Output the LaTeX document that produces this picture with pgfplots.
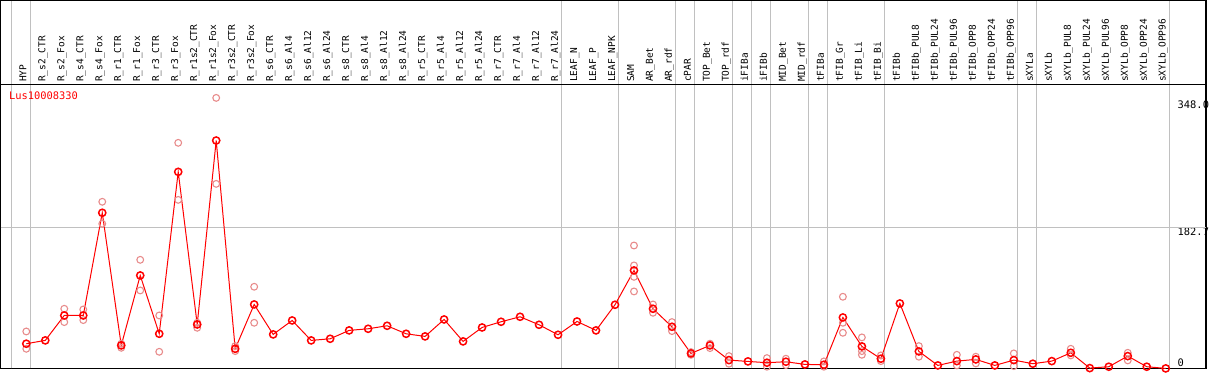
\documentclass[border=0pt]{standalone}
\usepackage{pgfplots}
\pgfplotsset{compat=1.18}
\usepackage{fontspec}
\setmonofont{DejaVu Sans Mono}
\definecolor{repred}{RGB}{232,140,140}
\definecolor{gridgray}{RGB}{192,192,192}
\newcommand{\lblfont}{\ttfamily\fontsize{9.5}{10}\selectfont}
\newcommand{\valfont}{\ttfamily\fontsize{10.4}{11}\selectfont}
\begin{document}
\begin{tikzpicture}
\begin{axis}[
  scale only axis, width=1206pt, height=368pt,
  xmin=-1.353, xmax=62.12, ymin=0, ymax=477.9,
  xtick={0,...,60},
  xticklabels={HYP,R\_s2\_CTR,R\_s2\_Fox,R\_s4\_CTR,R\_s4\_Fox,R\_r1\_CTR,R\_r1\_Fox,R\_r3\_CTR,R\_r3\_Fox,R\_r1s2\_CTR,R\_r1s2\_Fox,R\_r3s2\_CTR,R\_r3s2\_Fox,R\_s6\_CTR,R\_s6\_Al4,R\_s6\_Al12,R\_s6\_Al24,R\_s8\_CTR,R\_s8\_Al4,R\_s8\_Al12,R\_s8\_Al24,R\_r5\_CTR,R\_r5\_Al4,R\_r5\_Al12,R\_r5\_Al24,R\_r7\_CTR,R\_r7\_Al4,R\_r7\_Al12,R\_r7\_Al24,LEAF\_N,LEAF\_P,LEAF\_NPK,SAM,AR\_Bet,AR\_rdf,cPAR,TOP\_Bet,TOP\_rdf,iFIBa,iFIBb,MID\_Bet,MID\_rdf,tFIBa,tFIB\_Gr,tFIB\_Li,tFIB\_Bi,tFIBb,tFIBb\_PUL8,tFIBb\_PUL24,tFIBb\_PUL96,tFIBb\_OPP8,tFIBb\_OPP24,tFIBb\_OPP96,sXYLa,sXYLb,sXYLb\_PUL8,sXYLb\_PUL24,sXYLb\_PUL96,sXYLb\_OPP8,sXYLb\_OPP24,sXYLb\_OPP96},
  xticklabel pos=upper,
  xticklabel style={rotate=90, anchor=base west, inner sep=0pt, font=\lblfont},
  xticklabel shift=-81.5pt,
  major tick length=0pt,
  ytick={0,182.7,348},
  yticklabels={{\smash{\raisebox{3pt}{0}}},182.7,348.0},
  yticklabel pos=right,
  yticklabel style={anchor=north west, inner sep=0pt, xshift=-28.5pt, font=\valfont},
  extra x ticks={-0.8,0.2,28.2,31.2,34.2,35.2,37.2,38.2,39.2,41.2,42.2,45.2,52.2,53.2,60.2},
  extra x tick labels={},
  extra x tick style={grid=major, major grid style={gridgray, line width=1pt}},
  extra y ticks={182.7},
  extra y tick labels={},
  extra y tick style={grid=major, major grid style={gridgray, line width=1pt}},
  axis line style={black, line width=1.2pt},
]
\draw[gridgray, line width=1pt] (axis cs:-0.8,0) -- (axis cs:-0.8,477.9);
\draw[black, line width=1pt] (axis cs:-1.353,368.8) -- (axis cs:62.12,368.8);
% replicates
\addplot[only marks, mark=o, mark size=3.4pt, repred, mark options={line width=1.1pt}] coordinates {
(0,48.0) (0,25.5)
(2,77.5) (2,60.2)
(3,76.6) (3,62.8)
(4,216.5) (4,187.9)
(5,32.1) (5,26.8)
(6,141.1) (6,101.3)
(7,68.8) (7,21.6)
(8,293.1) (8,219.0)
(9,52.8) (9,59.3)
(10,351.5) (10,239.8)
(11,29.0) (11,22.5)
(12,106.1) (12,59.3)
(32,159.7) (32,133.8) (32,119.0) (32,100.0)
(33,83.1) (33,72.3)
(34,60.2) (34,48.5)
(35,21.2) (35,17.7)
(36,32.1) (36,26.4)
(37,16.0) (37,6.1)
(39,13.4) (39,2.2)
(40,12.6) (40,4.3)
(42,9.1) (42,2.2)
(43,93.1) (43,59.3) (43,46.3)
(44,40.3) (44,22.5) (44,17.7)
(45,16.9) (45,9.5)
(47,29.0) (47,15.2)
(49,17.7) (49,3.9)
(50,15.2) (50,6.5)
(52,19.5) (52,3.0)
(55,25.5) (55,16.9)
(58,20.3) (58,10.4)
};
% means
\addplot[red, line width=1pt, mark=o, mark size=3.6pt, mark options={line width=1.5pt}] coordinates {
(0,32.1) (1,36.4) (2,68.8) (3,68.8) (4,202.2) (5,29.9) (6,120.8) (7,45.0) (8,255.4) (9,57.1)
(10,296.1) (11,25.5) (12,83.1) (13,44.2) (14,62.3) (15,36.4) (16,38.5) (17,49.4) (18,51.5) (19,55.4)
(20,45.0) (21,41.6) (22,63.6) (23,35.1) (24,53.2) (25,60.6) (26,67.1) (27,56.7) (28,43.7) (29,61.0)
(30,49.4) (31,82.7) (32,127.3) (33,77.5) (34,54.1) (35,19.5) (36,29.9) (37,10.8) (38,9.1) (39,7.4)
(40,8.7) (41,5.2) (42,4.8) (43,66.2) (44,28.6) (45,12.6) (46,84.4) (47,22.1) (48,3.9) (49,9.5)
(50,11.7) (51,3.9) (52,10.8) (53,6.1) (54,9.5) (55,20.3) (56,0.4) (57,2.2) (58,16.0) (59,2.2)
(60,0.0)
};
\node[anchor=west, inner sep=0pt, text=red, font=\valfont] at (axis cs:-0.916,353.9) {Lus10008330};
\end{axis}
\end{tikzpicture}
\end{document}
